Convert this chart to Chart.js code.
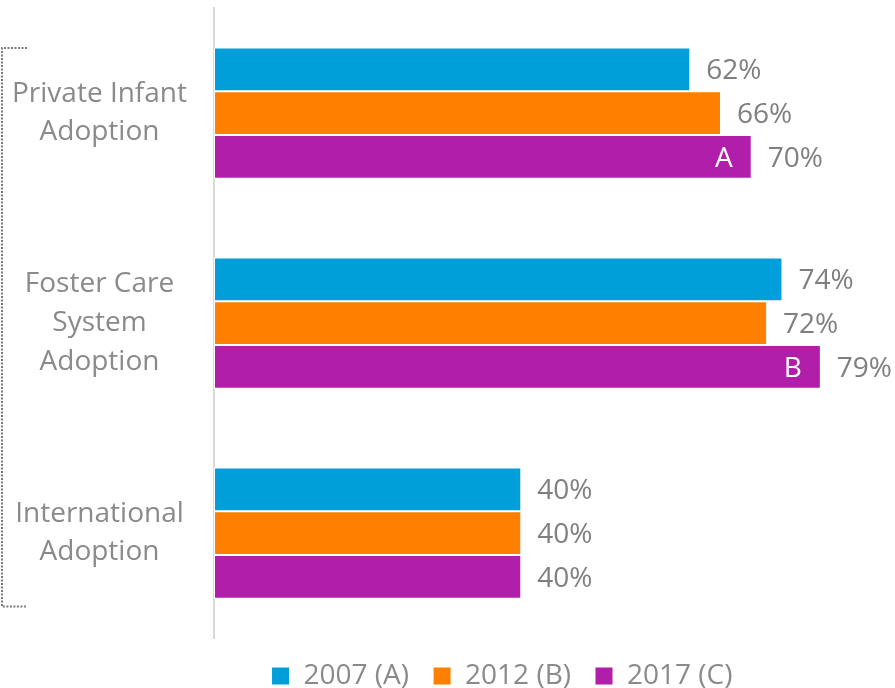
<!DOCTYPE html>
<html>
<head>
<meta charset="utf-8">
<script src="https://cdn.jsdelivr.net/npm/chart.js@4/dist/chart.umd.min.js"></script>
<style>
  html, body { margin: 0; padding: 0; background: #ffffff; }
  #wrap { width: 895px; height: 688px; position: relative; }
</style>
</head>
<body>
<div id="wrap"><canvas id="c" width="895" height="688"></canvas></div>
<script>
const categories = [
  ['Private Infant', 'Adoption'],
  ['Foster Care', 'System', 'Adoption'],
  ['International', 'Adoption']
];
const seriesNames = ['2007 (A)', '2012 (B)', '2017 (C)'];
const values2007 = [62, 74, 40];
const values2012 = [66, 72, 40];
const values2017 = [70, 79, 40];
const innerLetters2017 = ['A', 'B', ''];
const colors = ['#009FDA', '#FF8000', '#B11EAA'];

const FONT = "'Segoe UI', 'Open Sans', sans-serif";
const GREY_TEXT = '#8a8a8a';

const labelPlugin = {
  id: 'valueLabels',
  afterDatasetsDraw(chart) {
    const ctx = chart.ctx;
    ctx.save();
    ctx.font = '28px ' + FONT;
    ctx.textBaseline = 'middle';
    chart.data.datasets.forEach((ds, di) => {
      const meta = chart.getDatasetMeta(di);
      meta.data.forEach((bar, i) => {
        ctx.fillStyle = '#7f7f7f';
        ctx.textAlign = 'left';
        ctx.fillText(ds.data[i] + '%', bar.x + 16, bar.y + 2);
        if (di === 2 && innerLetters2017[i]) {
          ctx.fillStyle = '#ffffff';
          ctx.textAlign = 'right';
          ctx.fillText(innerLetters2017[i], bar.x - 19, bar.y + 2);
        }
      });
    });
    ctx.restore();
  }
};

const bracketPlugin = {
  id: 'bracket',
  afterDraw(chart) {
    const y = chart.scales.y;
    const band = (y.getPixelForValue(1) - y.getPixelForValue(0));
    const top = y.getPixelForValue(0) - band * 0.31;
    const bottom = y.getPixelForValue(2) + band * 0.35;
    const ctx = chart.ctx;
    ctx.save();
    ctx.strokeStyle = '#7a7a7a';
    ctx.lineWidth = 2;
    ctx.setLineDash([2, 1.5]);
    ctx.beginPath();
    ctx.moveTo(27, top);
    ctx.lineTo(2, top);
    ctx.lineTo(2, bottom);
    ctx.lineTo(27, bottom);
    ctx.stroke();
    ctx.restore();
  }
};

const legendShiftPlugin = {
  id: 'legendShift',
  afterLayout(chart) {
    if (chart.legend) {
      chart.legend.left += 62;
      chart.legend.right += 62;
    }
  }
};

new Chart(document.getElementById('c'), {
  type: 'bar',
  data: {
    labels: categories,
    datasets: [
      { label: seriesNames[0], data: values2007, backgroundColor: colors[0] },
      { label: seriesNames[1], data: values2012, backgroundColor: colors[1] },
      { label: seriesNames[2], data: values2017, backgroundColor: colors[2] }
    ]
  },
  options: {
    indexAxis: 'y',
    responsive: false,
    animation: false,
    devicePixelRatio: 1,
    layout: { padding: { top: 8, right: 15, bottom: -12, left: 0 } },
    datasets: {
      bar: {
        categoryPercentage: 0.625,
        barPercentage: 1.0,
        borderWidth: 1,
        borderColor: '#ffffff',
        borderSkipped: false
      }
    },
    scales: {
      x: {
        display: false,
        min: 0,
        max: 86.7
      },
      y: {
        grid: { display: false, drawTicks: false },
        border: { display: true, color: '#d9d9d9', width: 2 },
        afterFit(scale) {
          scale.width = 214;
          scale.paddingTop = 0;
          scale.paddingBottom = 0;
        },
        ticks: {
          crossAlign: 'center',
          padding: 27,
          color: GREY_TEXT,
          font: { family: FONT, size: 28, lineHeight: 1.39 }
        }
      }
    },
    plugins: {
      legend: {
        position: 'bottom',
        labels: {
          boxWidth: 18,
          boxHeight: 18,
          padding: 24,
          color: GREY_TEXT,
          font: { family: FONT, size: 28 }
        }
      },
      tooltip: { enabled: false }
    }
  },
  plugins: [labelPlugin, bracketPlugin, legendShiftPlugin]
});
</script>
</body>
</html>
